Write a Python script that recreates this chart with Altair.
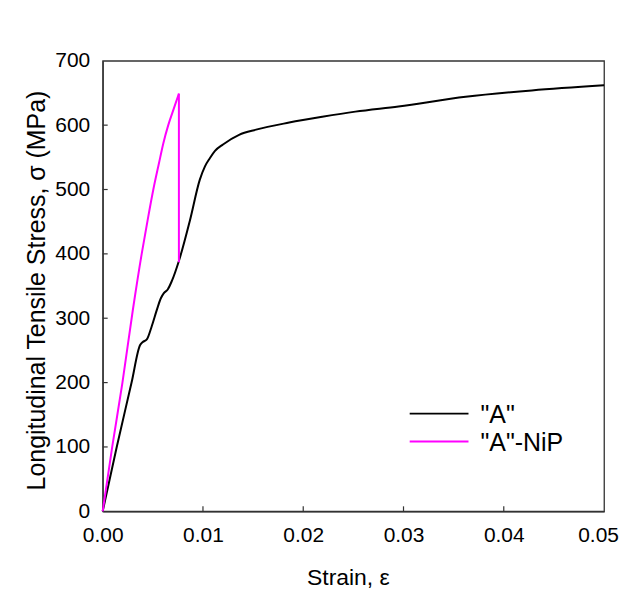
import altair as alt
import pandas as pd

# ---- data ----
series_names = ['"A"', '"A"-NiP']
series_colors = ["#000000", "#FF00FF"]

a_strain = [0.0, 0.0014, 0.00288, 0.00372, 0.0040, 0.0044, 0.0049, 0.0054, 0.0058,
            0.0061, 0.0065, 0.0069, 0.0076, 0.0087, 0.00968, 0.0102, 0.0107, 0.0112,
            0.0120, 0.0136, 0.0153, 0.0186, 0.0219, 0.0252, 0.0295, 0.0362, 0.0428, 0.0500]
a_stress = [0, 100, 200, 258, 263, 267, 288, 313, 331,
            339, 345, 358, 389, 452, 515, 536, 549, 560,
            570, 585, 593, 604, 613, 621, 629, 644, 654, 662]

nip_strain = [0.0, 0.00095, 0.00197, 0.00300, 0.00389, 0.00450, 0.00505,
              0.00560, 0.00605, 0.00654, 0.0071, 0.0076, 0.0076]
nip_stress = [0, 100, 200, 312, 400, 454, 500,
              540, 572, 600, 626, 649, 387]

x_ticks = [0.00, 0.01, 0.02, 0.03, 0.04, 0.05]
y_ticks = [0, 100, 200, 300, 400, 500, 600, 700]


def series_frame(name, xs, ys):
    return pd.DataFrame({"series": name, "strain": xs, "stress": ys,
                         "idx": list(range(len(xs)))})


df_a = series_frame(series_names[0], a_strain, a_stress)
df_n = series_frame(series_names[1], nip_strain, nip_stress)
n_last = len(nip_strain) - 1  # index of the point after the sudden drop

W, H = 503, 452
FONT = "Liberation Sans"
AXC = "#333333"

x_scale = alt.Scale(domain=[0, 0.05], nice=False, zero=False)
y_scale = alt.Scale(domain=[0, 700], nice=False)
color_scale = alt.Scale(domain=series_names, range=series_colors)

x_enc = alt.X("strain:Q", scale=x_scale,
              axis=alt.Axis(values=x_ticks, format=".2f", title="Strain, ε",
                            ticks=False, grid=False, labelPadding=13,
                            labelFlush=False, labelOverlap=False,
                            labelOffset={"condition": {"test": "datum.value >= 0.05",
                                                       "value": -6},
                                         "value": 0},
                            titleFontSize=23, titleX=246,
                            titleY=66, titleBaseline="middle"))
y_enc = alt.Y("stress:Q", scale=y_scale,
              axis=alt.Axis(values=y_ticks, format="d",
                            title="Longitudinal Tensile Stress, σ (MPa)",
                            ticks=False, grid=False, labelPadding=13,
                            labelFlush=False, labelOverlap=False,
                            titleFontSize=25,
                            titleX=-66, titleY=230, titleBaseline="middle"))

color_enc = alt.Color("series:N", scale=color_scale, legend=None)

line_a = alt.Chart(df_a).mark_line(strokeWidth=2, interpolate="monotone").encode(
    x=x_enc, y=y_enc, color=color_enc, order=alt.Order("idx:Q"),
)
# rising part of the NiP curve (smooth)
line_n_rise = alt.Chart(df_n).transform_filter(
    alt.datum.idx < n_last
).mark_line(strokeWidth=2, interpolate="monotone").encode(
    x=alt.X("strain:Q", scale=x_scale),
    y=alt.Y("stress:Q", scale=y_scale),
    color=color_enc, order=alt.Order("idx:Q"),
)
# sudden drop at fracture of the coating
line_n_drop = alt.Chart(df_n).transform_filter(
    alt.datum.idx >= n_last - 1
).mark_line(strokeWidth=2).encode(
    x=alt.X("strain:Q", scale=x_scale),
    y=alt.Y("stress:Q", scale=y_scale),
    color=color_enc, order=alt.Order("idx:Q"),
)

xt = alt.Chart(pd.DataFrame({"t": x_ticks[1:-1]})).mark_rule(
    color=AXC, strokeWidth=1.2).encode(
    x=alt.X("t:Q", scale=x_scale), y=alt.value(H - 5), y2=alt.value(H))

yt = alt.Chart(pd.DataFrame({"t": y_ticks[1:-1]})).mark_rule(
    color=AXC, strokeWidth=1.2).encode(
    y=alt.Y("t:Q", scale=y_scale), x=alt.value(0), x2=alt.value(5))

legend_layers = []
leg_y = [354, 382]
for i, name in enumerate(series_names):
    d = pd.DataFrame({"series": [name]})
    legend_layers.append(
        alt.Chart(d).mark_rule(strokeWidth=2).encode(
            x=alt.value(308), x2=alt.value(367), y=alt.value(leg_y[i]),
            color=color_enc))
    legend_layers.append(
        alt.Chart(d).mark_text(align="left", baseline="middle", fontSize=25,
                               font=FONT, color="#000000").encode(
            x=alt.value(379), y=alt.value(leg_y[i] + 1), text="series:N"))

chart = alt.layer(line_a, line_n_rise, line_n_drop, xt, yt, *legend_layers).properties(
    width=W, height=H,
    autosize=alt.AutoSizeParams(type="none"),
    padding={"left": 95, "top": 52, "right": 15, "bottom": 80},
    background="white",
).configure_view(
    stroke=AXC, strokeWidth=1.3
).configure_axis(
    domainColor=AXC, domainWidth=1.3,
    labelFont=FONT, labelFontSize=21, labelColor="#000000",
    titleFont=FONT, titleColor="#000000", titleFontWeight="normal",
)

chart.save("out.html", embed_options={"renderer": "svg", "actions": False})
